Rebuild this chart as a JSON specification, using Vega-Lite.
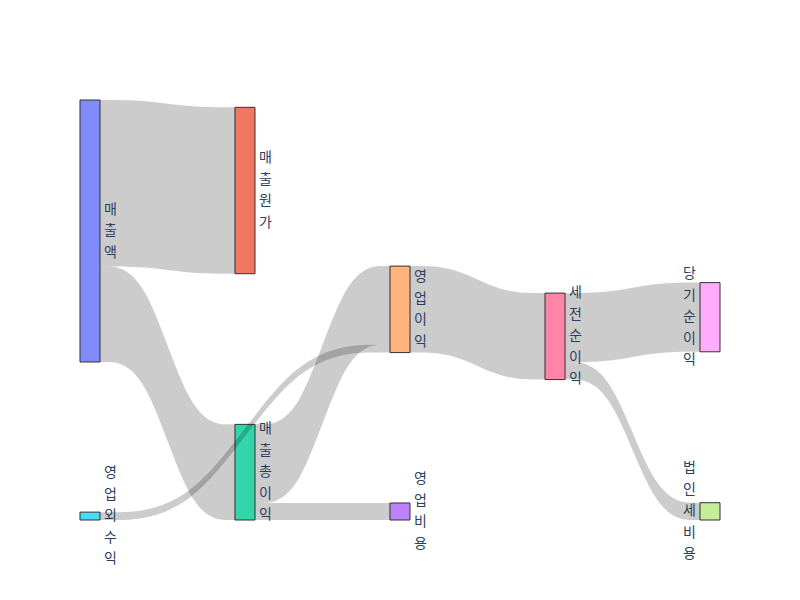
{
  "$schema": "https://vega.github.io/schema/vega-lite/v6.json",
  "width": 640,
  "height": 420,
  "autosize": {"type": "none"},
  "padding": {"left": 80, "top": 100, "right": 80, "bottom": 80},
  "background": "white",
  "config": {"view": {"stroke": null}},
  "datasets": {
    "nodes": [
      {"node": "매출액", "stage": 0, "y0": 0, "y1": 1000},
      {"node": "영업외수익", "stage": 0, "y0": 1573, "y1": 1603},
      {"node": "매출원가", "stage": 1, "y0": 28, "y1": 663},
      {"node": "매출총이익", "stage": 1, "y0": 1238, "y1": 1603},
      {"node": "영업이익", "stage": 2, "y0": 634, "y1": 964},
      {"node": "영업비용", "stage": 2, "y0": 1538, "y1": 1603},
      {"node": "세전순이익", "stage": 3, "y0": 737, "y1": 1067},
      {"node": "당기순이익", "stage": 4, "y0": 697, "y1": 961},
      {"node": "법인세비용", "stage": 4, "y0": 1537, "y1": 1603}
    ],
    "links": [
      {"link": "매출액→매출원가", "x": 0.0645, "top": 0, "bottom": 635},
      {"link": "매출액→매출원가", "x": 0.3548, "top": 0, "bottom": 635},
      {"link": "매출액→매출원가", "x": 0.6452, "top": 28, "bottom": 663},
      {"link": "매출액→매출원가", "x": 0.9355, "top": 28, "bottom": 663},
      {"link": "매출액→매출총이익", "x": 0.0645, "top": 635, "bottom": 1000},
      {"link": "매출액→매출총이익", "x": 0.3548, "top": 635, "bottom": 1000},
      {"link": "매출액→매출총이익", "x": 0.6452, "top": 1238, "bottom": 1603},
      {"link": "매출액→매출총이익", "x": 0.9355, "top": 1238, "bottom": 1603},
      {"link": "매출총이익→영업이익", "x": 1.0645, "top": 1238, "bottom": 1538},
      {"link": "매출총이익→영업이익", "x": 1.3548, "top": 1238, "bottom": 1538},
      {"link": "매출총이익→영업이익", "x": 1.6452, "top": 634, "bottom": 934},
      {"link": "매출총이익→영업이익", "x": 1.9355, "top": 634, "bottom": 934},
      {"link": "매출총이익→영업비용", "x": 1.0645, "top": 1538, "bottom": 1603},
      {"link": "매출총이익→영업비용", "x": 1.3548, "top": 1538, "bottom": 1603},
      {"link": "매출총이익→영업비용", "x": 1.6452, "top": 1538, "bottom": 1603},
      {"link": "매출총이익→영업비용", "x": 1.9355, "top": 1538, "bottom": 1603},
      {"link": "영업외수익→영업이익", "x": 0.0645, "top": 1573, "bottom": 1603},
      {"link": "영업외수익→영업이익", "x": 0.6882, "top": 1573, "bottom": 1603},
      {"link": "영업외수익→영업이익", "x": 1.3118, "top": 934, "bottom": 964},
      {"link": "영업외수익→영업이익", "x": 1.9355, "top": 934, "bottom": 964},
      {"link": "영업이익→세전순이익", "x": 2.0645, "top": 634, "bottom": 964},
      {"link": "영업이익→세전순이익", "x": 2.3548, "top": 634, "bottom": 964},
      {"link": "영업이익→세전순이익", "x": 2.6452, "top": 737, "bottom": 1067},
      {"link": "영업이익→세전순이익", "x": 2.9355, "top": 737, "bottom": 1067},
      {"link": "세전순이익→당기순이익", "x": 3.0645, "top": 737, "bottom": 1001},
      {"link": "세전순이익→당기순이익", "x": 3.3548, "top": 737, "bottom": 1001},
      {"link": "세전순이익→당기순이익", "x": 3.6452, "top": 697, "bottom": 961},
      {"link": "세전순이익→당기순이익", "x": 3.9355, "top": 697, "bottom": 961},
      {"link": "세전순이익→법인세비용", "x": 3.0645, "top": 1001, "bottom": 1067},
      {"link": "세전순이익→법인세비용", "x": 3.3548, "top": 1001, "bottom": 1067},
      {"link": "세전순이익→법인세비용", "x": 3.6452, "top": 1537, "bottom": 1603},
      {"link": "세전순이익→법인세비용", "x": 3.9355, "top": 1537, "bottom": 1603}
    ]
  },
  "layer": [
    {
      "data": {"name": "nodes"},
      "mark": {"type": "bar", "width": 20, "fillOpacity": 0.8, "stroke": "#333333", "strokeWidth": 1},
      "encoding": {
        "x": {"field": "stage", "type": "quantitative", "scale": {"domain": [-0.0645, 4.0645], "nice": false, "zero": false, "padding": 0}, "axis": null},
        "y": {"field": "y0", "type": "quantitative", "scale": {"domain": [0, 1603], "reverse": true, "nice": false, "zero": false, "padding": 0}, "axis": null},
        "y2": {"field": "y1"},
        "color": {
          "field": "node", "type": "nominal", "legend": null,
          "scale": {
            "domain": ["매출액", "매출원가", "매출총이익", "영업비용", "영업이익", "영업외수익", "세전순이익", "법인세비용", "당기순이익"],
            "range": ["#636efa", "#EF553B", "#00cc96", "#ab63fa", "#FFA15A", "#19d3f3", "#FF6692", "#B6E880", "#FF97FF"]
          }
        }
      }
    },
    {
      "data": {"name": "links"},
      "mark": {"type": "area", "interpolate": "basis", "color": "black", "opacity": 0.2},
      "encoding": {
        "x": {"field": "x", "type": "quantitative", "scale": {"domain": [-0.0645, 4.0645], "nice": false, "zero": false, "padding": 0}, "axis": null},
        "y": {"field": "top", "type": "quantitative", "scale": {"domain": [0, 1603], "reverse": true, "nice": false, "zero": false, "padding": 0}, "axis": null},
        "y2": {"field": "bottom"},
        "detail": {"field": "link", "type": "nominal"}
      }
    },
    {
      "data": {"name": "nodes"},
      "transform": [
        {"filter": "datum.stage < 4 && length(datum.node) == 3"},
        {"calculate": "(datum.y0 + datum.y1) / 2", "as": "mid"},
        {"calculate": "join(split(datum.node, ''), '\\n')", "as": "lbl"}
      ],
      "mark": {"type": "text", "align": "left", "baseline": "middle", "dx": 14, "dy": -21.5, "font": "Noto Sans CJK KR", "fontSize": 14, "lineHeight": 21.5, "lineBreak": "\n", "color": "#2a3f5f"},
      "encoding": {
        "x": {"field": "stage", "type": "quantitative", "scale": {"domain": [-0.0645, 4.0645], "nice": false, "zero": false, "padding": 0}, "axis": null},
        "y": {"field": "mid", "type": "quantitative", "scale": {"domain": [0, 1603], "reverse": true, "nice": false, "zero": false, "padding": 0}, "axis": null},
        "text": {"field": "lbl", "type": "nominal"}
      }
    },
    {
      "data": {"name": "nodes"},
      "transform": [
        {"filter": "datum.stage < 4 && length(datum.node) == 4"},
        {"calculate": "(datum.y0 + datum.y1) / 2", "as": "mid"},
        {"calculate": "join(split(datum.node, ''), '\\n')", "as": "lbl"}
      ],
      "mark": {"type": "text", "align": "left", "baseline": "middle", "dx": 14, "dy": -32.25, "font": "Noto Sans CJK KR", "fontSize": 14, "lineHeight": 21.5, "lineBreak": "\n", "color": "#2a3f5f"},
      "encoding": {
        "x": {"field": "stage", "type": "quantitative", "scale": {"domain": [-0.0645, 4.0645], "nice": false, "zero": false, "padding": 0}, "axis": null},
        "y": {"field": "mid", "type": "quantitative", "scale": {"domain": [0, 1603], "reverse": true, "nice": false, "zero": false, "padding": 0}, "axis": null},
        "text": {"field": "lbl", "type": "nominal"}
      }
    },
    {
      "data": {"name": "nodes"},
      "transform": [
        {"filter": "datum.stage < 4 && length(datum.node) == 5"},
        {"calculate": "(datum.y0 + datum.y1) / 2", "as": "mid"},
        {"calculate": "join(split(datum.node, ''), '\\n')", "as": "lbl"}
      ],
      "mark": {"type": "text", "align": "left", "baseline": "middle", "dx": 14, "dy": -43, "font": "Noto Sans CJK KR", "fontSize": 14, "lineHeight": 21.5, "lineBreak": "\n", "color": "#2a3f5f"},
      "encoding": {
        "x": {"field": "stage", "type": "quantitative", "scale": {"domain": [-0.0645, 4.0645], "nice": false, "zero": false, "padding": 0}, "axis": null},
        "y": {"field": "mid", "type": "quantitative", "scale": {"domain": [0, 1603], "reverse": true, "nice": false, "zero": false, "padding": 0}, "axis": null},
        "text": {"field": "lbl", "type": "nominal"}
      }
    },
    {
      "data": {"name": "nodes"},
      "transform": [
        {"filter": "datum.stage == 4"},
        {"calculate": "(datum.y0 + datum.y1) / 2", "as": "mid"},
        {"calculate": "join(split(datum.node, ''), '\\n')", "as": "lbl"}
      ],
      "mark": {"type": "text", "align": "right", "baseline": "middle", "dx": -14, "dy": -43, "font": "Noto Sans CJK KR", "fontSize": 14, "lineHeight": 21.5, "lineBreak": "\n", "color": "#2a3f5f"},
      "encoding": {
        "x": {"field": "stage", "type": "quantitative", "scale": {"domain": [-0.0645, 4.0645], "nice": false, "zero": false, "padding": 0}, "axis": null},
        "y": {"field": "mid", "type": "quantitative", "scale": {"domain": [0, 1603], "reverse": true, "nice": false, "zero": false, "padding": 0}, "axis": null},
        "text": {"field": "lbl", "type": "nominal"}
      }
    }
  ]
}
